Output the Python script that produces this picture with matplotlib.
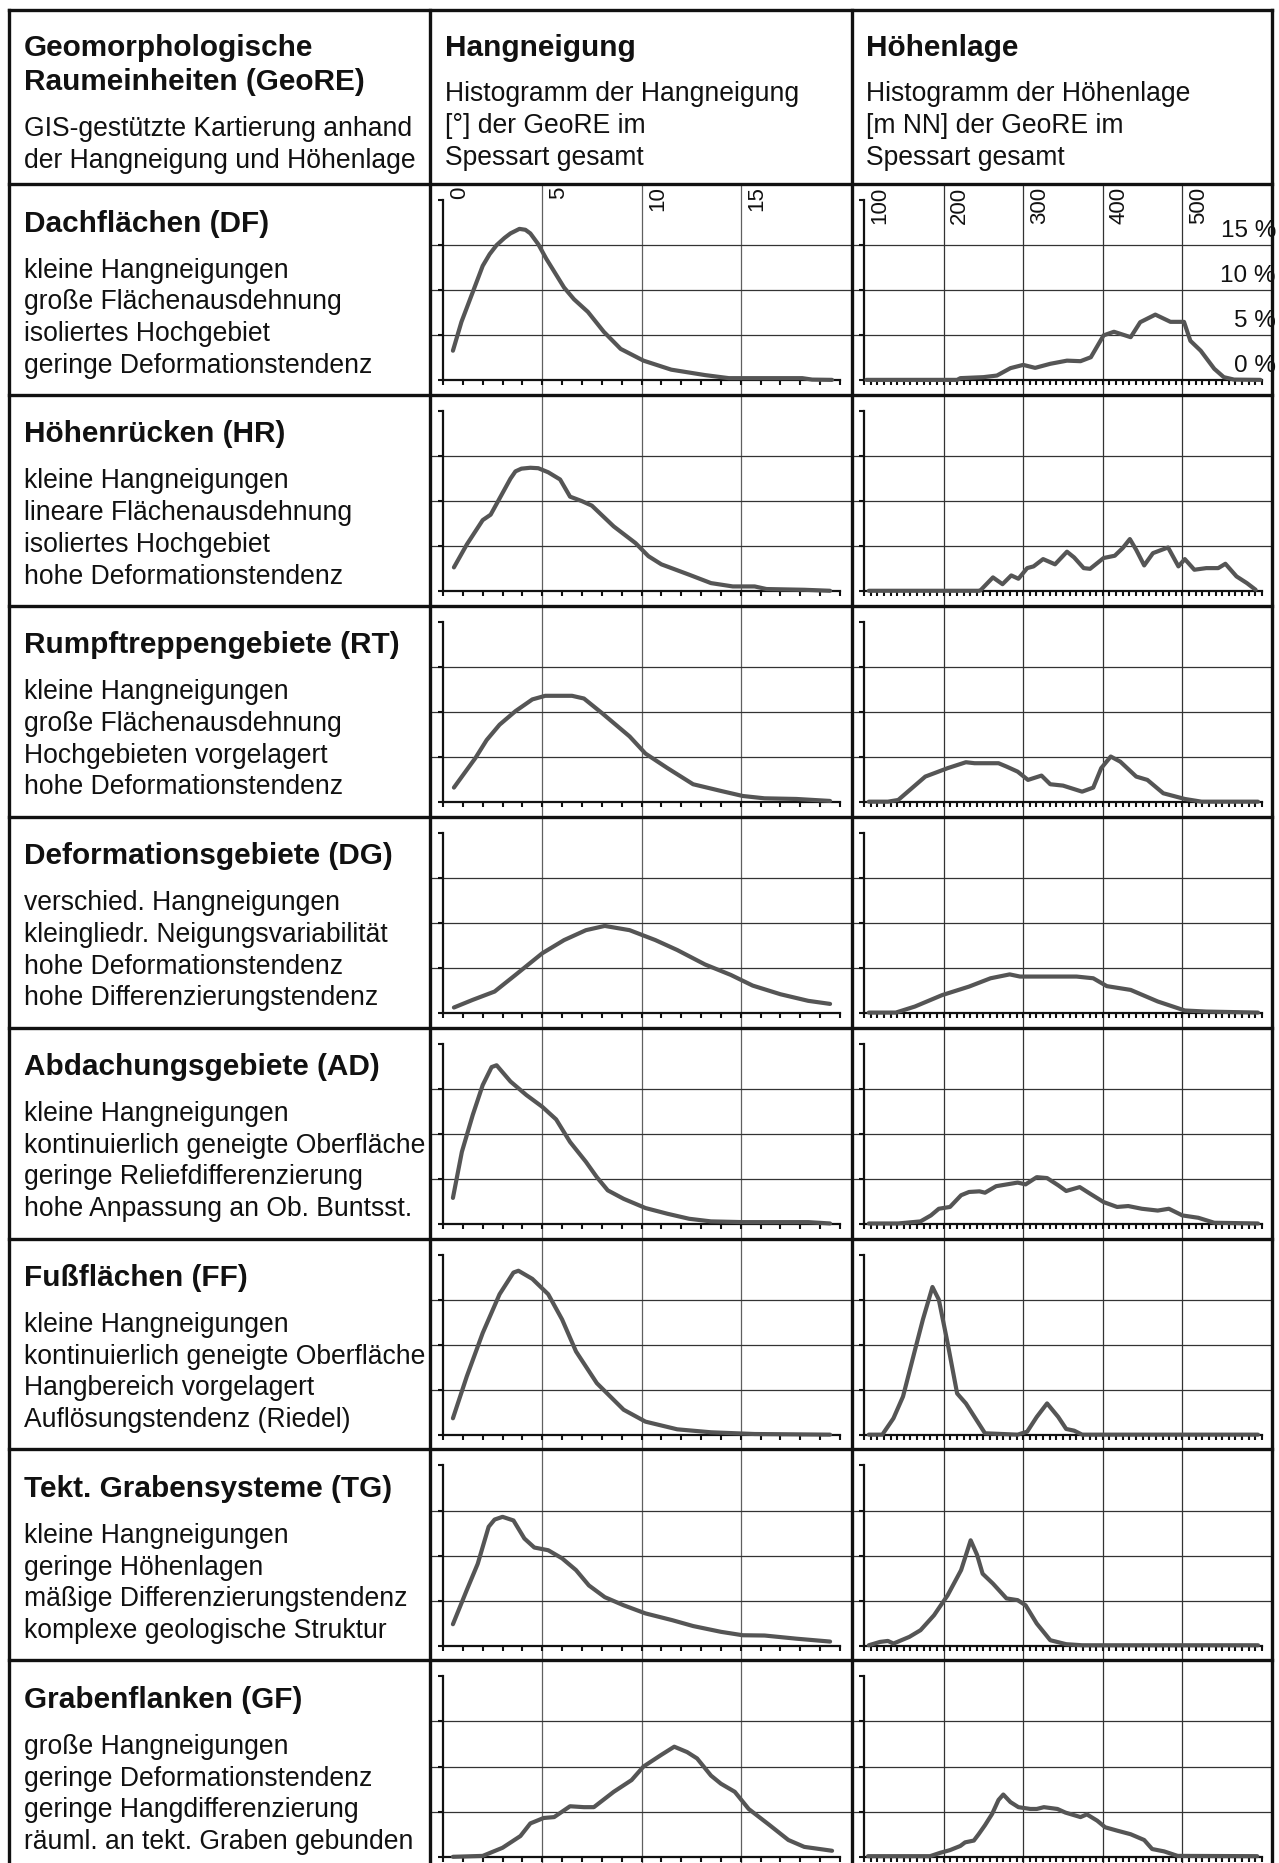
import numpy as np
import matplotlib
matplotlib.use("Agg")
import matplotlib.pyplot as plt
from matplotlib.transforms import blended_transform_factory

plt.rcParams['font.family'] = ['Liberation Sans', 'DejaVu Sans']

# ---------------- data ----------------
header_titles = ["Hangneigung", "Höhenlage"]
header_col1 = ["Geomorphologische", "Raumeinheiten (GeoRE)"]
header_col1_notes = ["GIS-gestützte Kartierung anhand", "der Hangneigung und Höhenlage"]
header_slope_notes = ["Histogramm der Hangneigung", "[°] der GeoRE im", "Spessart gesamt"]
header_elev_notes = ["Histogramm der Höhenlage", "[m NN] der GeoRE im", "Spessart gesamt"]

unit_titles = ["Dachflächen (DF)", "Höhenrücken (HR)", "Rumpftreppengebiete (RT)",
               "Deformationsgebiete (DG)", "Abdachungsgebiete (AD)", "Fußflächen (FF)",
               "Tekt. Grabensysteme (TG)", "Grabenflanken (GF)"]
unit_notes = [
    ["kleine Hangneigungen", "große Flächenausdehnung", "isoliertes Hochgebiet", "geringe Deformationstendenz"],
    ["kleine Hangneigungen", "lineare Flächenausdehnung", "isoliertes Hochgebiet", "hohe Deformationstendenz"],
    ["kleine Hangneigungen", "große Flächenausdehnung", "Hochgebieten vorgelagert", "hohe Deformationstendenz"],
    ["verschied. Hangneigungen", "kleingliedr. Neigungsvariabilität", "hohe Deformationstendenz", "hohe Differenzierungstendenz"],
    ["kleine Hangneigungen", "kontinuierlich geneigte Oberfläche", "geringe Reliefdifferenzierung", "hohe Anpassung an Ob. Buntsst."],
    ["kleine Hangneigungen", "kontinuierlich geneigte Oberfläche", "Hangbereich vorgelagert", "Auflösungstendenz (Riedel)"],
    ["kleine Hangneigungen", "geringe Höhenlagen", "mäßige Differenzierungstendenz", "komplexe geologische Struktur"],
    ["große Hangneigungen", "geringe Deformationstendenz", "geringe Hangdifferenzierung", "räuml. an tekt. Graben gebunden"],
]

slope_ticks = [0, 5, 10, 15]
slope_range = [0, 20]
elev_ticks = [100, 200, 300, 400, 500]
elev_range = [100, 600]
pct_levels = [0, 5, 10, 15]
pct_labels = ["0 %", "5 %", "10 %", "15 %"]
pct_range = [0, 20]

df_slope_x = [0.5, 0.93, 1.5, 2.0, 2.35, 2.7, 3.1, 3.4, 3.85, 4.15, 4.4, 4.8, 5.2, 6.1, 6.6, 7.3, 8.1, 8.95, 10.1, 11.5, 13.2, 14.4, 15.7, 18.1, 18.6, 19.6]
df_slope_y = [3.3, 6.5, 9.8, 12.7, 14.0, 15.0, 15.8, 16.3, 16.8, 16.7, 16.3, 15.1, 13.5, 10.3, 9.0, 7.6, 5.4, 3.5, 2.2, 1.2, 0.6, 0.26, 0.26, 0.26, 0.1, 0.07]
df_elev_x = [103, 217, 221, 250, 267, 284, 300, 315, 334, 355, 372, 385, 401, 414, 435, 447, 466, 485, 502, 510, 523, 540, 552, 565, 598]
df_elev_y = [0.07, 0.07, 0.26, 0.37, 0.55, 1.37, 1.73, 1.4, 1.85, 2.2, 2.14, 2.58, 5.0, 5.4, 4.8, 6.46, 7.3, 6.5, 6.5, 4.4, 3.3, 1.3, 0.37, 0.1, 0.07]

hr_slope_x = [0.55, 1.2, 2.0, 2.4, 3.0, 3.4, 3.65, 3.95, 4.4, 4.8, 5.3, 5.9, 6.4, 7.0, 7.5, 8.6, 9.7, 10.35, 11.0, 12.4, 13.5, 14.6, 15.7, 16.3, 18.2, 19.5]
hr_slope_y = [2.66, 5.2, 7.9, 8.5, 10.9, 12.5, 13.3, 13.6, 13.7, 13.65, 13.2, 12.4, 10.5, 10.0, 9.5, 7.2, 5.35, 3.9, 3.0, 1.85, 0.92, 0.55, 0.55, 0.26, 0.18, 0.07]
hr_elev_x = [106, 245, 247, 262, 274, 285, 294, 305, 313, 325, 340, 355, 364, 376, 384, 401, 415, 425, 434, 442, 452, 463, 482, 495, 503, 515, 530, 545, 554, 568, 581, 592]
hr_elev_y = [0.07, 0.07, 0.18, 1.55, 0.8, 1.77, 1.4, 2.58, 2.77, 3.58, 3.0, 4.4, 3.76, 2.58, 2.5, 3.7, 3.95, 4.8, 5.8, 4.6, 2.88, 4.24, 4.87, 2.77, 3.58, 2.4, 2.58, 2.58, 3.06, 1.66, 0.92, 0.18]

rt_slope_x = [0.55, 1.63, 2.2, 2.85, 3.65, 4.5, 5.15, 6.5, 7.1, 8.0, 9.4, 10.2, 11.3, 12.6, 14.0, 15.1, 16.2, 17.8, 19.5]
rt_slope_y = [1.63, 4.9, 6.9, 8.6, 10.1, 11.4, 11.8, 11.8, 11.5, 9.9, 7.3, 5.4, 3.8, 2.0, 1.26, 0.7, 0.44, 0.37, 0.15]
rt_elev_x = [106, 130, 143, 177, 205, 228, 239, 269, 279, 293, 306, 323, 334, 350, 374, 388, 398, 410, 422, 442, 456, 476, 503, 524, 595]
rt_elev_y = [0.07, 0.07, 0.26, 2.85, 3.78, 4.44, 4.33, 4.33, 3.96, 3.4, 2.48, 2.96, 2.0, 1.85, 1.18, 1.63, 3.78, 5.07, 4.5, 2.85, 2.48, 1.0, 0.37, 0.07, 0.07]

dg_slope_x = [0.55, 1.5, 2.6, 3.65, 5.0, 6.1, 7.2, 8.15, 9.4, 10.7, 11.8, 13.2, 14.5, 15.6, 17.0, 18.4, 19.5]
dg_slope_y = [0.63, 1.48, 2.4, 4.24, 6.64, 8.1, 9.2, 9.67, 9.2, 8.1, 7.0, 5.4, 4.24, 3.06, 2.1, 1.37, 1.03]
dg_elev_x = [106, 140, 164, 198, 232, 259, 283, 296, 367, 388, 405, 435, 469, 503, 530, 595]
dg_elev_y = [0.07, 0.07, 0.74, 2.0, 2.95, 3.87, 4.3, 4.06, 4.06, 3.87, 3.0, 2.58, 1.3, 0.3, 0.18, 0.07]

ad_slope_x = [0.5, 0.95, 1.5, 2.0, 2.45, 2.7, 3.4, 4.2, 5.0, 5.7, 6.4, 7.2, 7.75, 8.3, 9.1, 10.2, 11.3, 12.4, 13.5, 15.1, 18.4, 19.5]
ad_slope_y = [2.9, 8.0, 12.1, 15.4, 17.4, 17.6, 15.8, 14.3, 13.0, 11.6, 9.1, 6.9, 5.2, 3.74, 2.8, 1.78, 1.15, 0.59, 0.3, 0.22, 0.22, 0.07]
ad_elev_x = [106, 143, 171, 184, 194, 208, 222, 232, 245, 252, 266, 293, 303, 317, 330, 344, 354, 371, 384, 401, 418, 432, 449, 469, 483, 500, 520, 540, 595]
ad_elev_y = [0.07, 0.07, 0.3, 0.96, 1.7, 1.9, 3.2, 3.56, 3.63, 3.48, 4.2, 4.6, 4.4, 5.2, 5.1, 4.3, 3.67, 4.1, 3.37, 2.44, 1.9, 2.0, 1.7, 1.5, 1.7, 0.96, 0.7, 0.15, 0.07]

ff_slope_x = [0.5, 1.2, 2.0, 2.85, 3.55, 3.8, 4.5, 5.3, 6.0, 6.7, 7.75, 9.1, 10.2, 11.8, 13.5, 15.7, 19.5]
ff_slope_y = [1.85, 6.5, 11.3, 15.6, 18.0, 18.2, 17.3, 15.6, 12.8, 9.26, 5.74, 2.8, 1.48, 0.63, 0.3, 0.11, 0.04]
ff_elev_x = [106, 123, 137, 149, 164, 174, 186, 194, 205, 217, 228, 252, 293, 305, 317, 330, 344, 354, 364, 374, 595]
ff_elev_y = [0.04, 0.04, 1.85, 4.26, 9.4, 12.8, 16.4, 15.0, 10.2, 4.6, 3.5, 0.19, 0.04, 0.37, 2.0, 3.5, 2.0, 0.67, 0.48, 0.04, 0.04]

tg_slope_x = [0.5, 1.2, 1.75, 2.3, 2.6, 3.0, 3.55, 4.1, 4.6, 5.3, 6.0, 6.7, 7.35, 8.15, 9.1, 10.2, 11.55, 12.6, 14.0, 15.1, 16.2, 17.8, 19.5]
tg_slope_y = [2.4, 6.2, 9.1, 13.2, 14.0, 14.3, 13.9, 11.9, 10.9, 10.6, 9.7, 8.4, 6.7, 5.4, 4.5, 3.6, 2.85, 2.2, 1.56, 1.18, 1.15, 0.8, 0.48]
tg_elev_x = [106, 120, 130, 137, 157, 171, 188, 205, 222, 234, 242, 249, 262, 279, 293, 303, 317, 334, 354, 374, 595]
tg_elev_y = [0.07, 0.44, 0.55, 0.26, 1.0, 1.74, 3.4, 5.6, 8.4, 11.7, 10.1, 8.0, 6.9, 5.26, 5.07, 4.5, 2.48, 0.63, 0.19, 0.07, 0.07]

gf_slope_x = [0.5, 2.0, 3.0, 3.9, 4.4, 5.07, 5.6, 6.4, 7.1, 7.6, 8.6, 9.5, 10.1, 11.0, 11.65, 12.3, 12.8, 13.5, 14.0, 14.7, 15.4, 16.4, 17.4, 18.2, 19.6]
gf_slope_y = [0.0, 0.1, 1.0, 2.3, 3.7, 4.3, 4.4, 5.6, 5.5, 5.5, 7.2, 8.5, 10.0, 11.3, 12.2, 11.6, 10.9, 9.0, 8.1, 7.2, 5.3, 3.6, 1.86, 1.1, 0.67]
gf_elev_x = [105, 183, 196, 208, 221, 227, 238, 244, 252, 261, 269, 275, 284, 294, 309, 317, 326, 343, 353, 372, 380, 393, 403, 418, 435, 452, 462, 477, 494, 594]
gf_elev_y = [0.07, 0.07, 0.45, 0.74, 1.2, 1.6, 1.8, 2.5, 3.5, 4.76, 6.3, 6.9, 6.06, 5.5, 5.3, 5.3, 5.5, 5.3, 4.9, 4.4, 4.7, 4.0, 3.27, 2.9, 2.5, 1.86, 0.86, 0.6, 0.1, 0.07]

slope_series = [(df_slope_x, df_slope_y), (hr_slope_x, hr_slope_y), (rt_slope_x, rt_slope_y),
                (dg_slope_x, dg_slope_y), (ad_slope_x, ad_slope_y), (ff_slope_x, ff_slope_y),
                (tg_slope_x, tg_slope_y), (gf_slope_x, gf_slope_y)]
elev_series = [(df_elev_x, df_elev_y), (hr_elev_x, hr_elev_y), (rt_elev_x, rt_elev_y),
               (dg_elev_x, dg_elev_y), (ad_elev_x, ad_elev_y), (ff_elev_x, ff_elev_y),
               (tg_elev_x, tg_elev_y), (gf_elev_x, gf_elev_y)]

# ---------------- layout (pixels) ----------------
W, H = 1279, 1863
fig = plt.figure(figsize=(W / 100, H / 100), dpi=100)
fig.patch.set_facecolor("white")

col_x = [9, 430, 852, 1272]
top_y = 10
head_bot = 184
row_h = 210.9
n_rows = len(unit_titles)
row_tops = [head_bot + i * row_h for i in range(n_rows)]

AX_TOP_OFF = 16.0      # pixel offset of the 20 % level from the row top
AX_BOT_OFF = 196.5     # pixel offset of the 0 % level from the row top

CURVE_C = "#555555"
GRID_C = "#333333"
BOLD_FS = 21.4
NORM_FS = 19.1
CURVE_LW = 3.0


def rect(x0, y0, x1, y1):
    return [x0 / W, 1 - y1 / H, (x1 - x0) / W, (y1 - y0) / H]


def make_axes(col, rt, xr, x_px0, x_px1):
    cx0, cx1 = col_x[col], col_x[col + 1]
    ax = fig.add_axes(rect(cx0, rt, cx1, rt + row_h))
    ax.patch.set_alpha(0)
    ppx = (x_px1 - x_px0) / (xr[1] - xr[0])
    ax.set_xlim(xr[0] - (x_px0 - cx0) / ppx, xr[1] + (cx1 - x_px1) / ppx)
    ppy = (AX_BOT_OFF - AX_TOP_OFF) / (pct_range[1] - pct_range[0])
    ax.set_ylim(pct_range[0] - (row_h - AX_BOT_OFF) / ppy,
                pct_range[1] + AX_TOP_OFF / ppy)
    for s in ("top", "right"):
        ax.spines[s].set_visible(False)
    ax.spines["left"].set_position(("data", xr[0]))
    ax.spines["left"].set_bounds(pct_range[0], pct_range[1])
    ax.spines["bottom"].set_position(("data", pct_range[0]))
    ax.spines["bottom"].set_bounds(xr[0], xr[1])
    for s in ("left", "bottom"):
        ax.spines[s].set_linewidth(1.6)
        ax.spines[s].set_color("#111111")
    ax.set_yticks(np.arange(pct_range[0], pct_range[1] + 1, 5))
    ax.tick_params(axis="both", which="both", direction="out", length=3.4,
                   width=1.5, color="#111111", labelbottom=False, labelleft=False)
    return ax


for i in range(n_rows):
    rt = row_tops[i]
    # --- slope histogram ---
    ax = make_axes(1, rt, slope_range, 443, 840)
    ax.set_xticks(np.arange(slope_range[0], slope_range[1] + 1, 1))
    for v in slope_ticks[1:]:
        ax.axvline(v, color="#606060", lw=0.9, zorder=0)
    for v in pct_levels[1:]:
        ax.axhline(v, color=GRID_C, lw=0.9, zorder=0)
    sx, sy = slope_series[i]
    ax.plot(sx, sy, color=CURVE_C, lw=CURVE_LW, solid_joinstyle="round",
            solid_capstyle="round", zorder=3, clip_on=False)
    if i == 0:
        tr = blended_transform_factory(ax.transData, ax.transAxes)
        for v in slope_ticks:
            ax.text(v + 0.82, 1 - 2.5 / row_h, str(v), rotation=90, ha="center",
                    va="top", fontsize=16, transform=tr, color="#111111")

    # --- elevation histogram ---
    ax = make_axes(2, rt, elev_range, 864, 1262)
    ax.set_xticks(np.linspace(elev_range[0], elev_range[1], 61))
    for v in elev_ticks[1:]:
        ax.axvline(v, color=GRID_C, lw=0.9, zorder=0)
    for v in pct_levels[1:]:
        ax.axhline(v, color=GRID_C, lw=0.9, zorder=0)
    ex, ey = elev_series[i]
    ax.plot(ex, ey, color=CURVE_C, lw=CURVE_LW, solid_joinstyle="round",
            solid_capstyle="round", zorder=3, clip_on=False)
    if i == 0:
        tr = blended_transform_factory(ax.transData, ax.transAxes)
        for v in elev_ticks:
            ax.text(v + 20, 1 - 2.5 / row_h, str(v), rotation=90, ha="center",
                    va="top", fontsize=16, transform=tr, color="#111111")
        tr2 = blended_transform_factory(ax.transAxes, ax.transData)
        for v, lab in zip(pct_levels, pct_labels):
            ax.text(1.0095, v + 1.6, lab, ha="right", va="center",
                    fontsize=17.5, transform=tr2, color="#111111")

# ---------------- overlay: borders and text ----------------
ov = fig.add_axes([0, 0, 1, 1])
ov.set_xlim(0, W)
ov.set_ylim(H, 0)
ov.axis("off")
ov.patch.set_alpha(0)
ov.set_zorder(10)

BL = dict(color="#111111", lw=2.4, solid_capstyle="projecting")
for x in col_x:
    ov.plot([x, x], [top_y, H + 5], **BL)
for y in [top_y, head_bot] + row_tops[1:]:
    ov.plot([col_x[0], col_x[-1]], [y, y], **BL)

TXT = dict(color="#111111", va="baseline", ha="left")
ov.text(24, 55.5, header_col1[0], fontsize=BOLD_FS, weight="bold", **TXT)
ov.text(24, 90, header_col1[1], fontsize=BOLD_FS, weight="bold", **TXT)
ov.text(24, 136.5, header_col1_notes[0], fontsize=NORM_FS, **TXT)
ov.text(24, 167.5, header_col1_notes[1], fontsize=NORM_FS, **TXT)

ov.text(445, 55.5, header_titles[0], fontsize=BOLD_FS, weight="bold", **TXT)
ov.text(866, 55.5, header_titles[1], fontsize=BOLD_FS, weight="bold", **TXT)
for k, (a, b) in enumerate(zip(header_slope_notes, header_elev_notes)):
    ov.text(445, 101 + 32 * k, a, fontsize=NORM_FS, **TXT)
    ov.text(866, 101 + 32 * k, b, fontsize=NORM_FS, **TXT)

for i in range(n_rows):
    rt = row_tops[i]
    ov.text(24, rt + 47.5, unit_titles[i], fontsize=BOLD_FS, weight="bold", **TXT)
    for k, line in enumerate(unit_notes[i]):
        ov.text(24, rt + 93.5 + 31.7 * k, line, fontsize=NORM_FS, **TXT)

fig.savefig("out.png", dpi=100, facecolor="white")
